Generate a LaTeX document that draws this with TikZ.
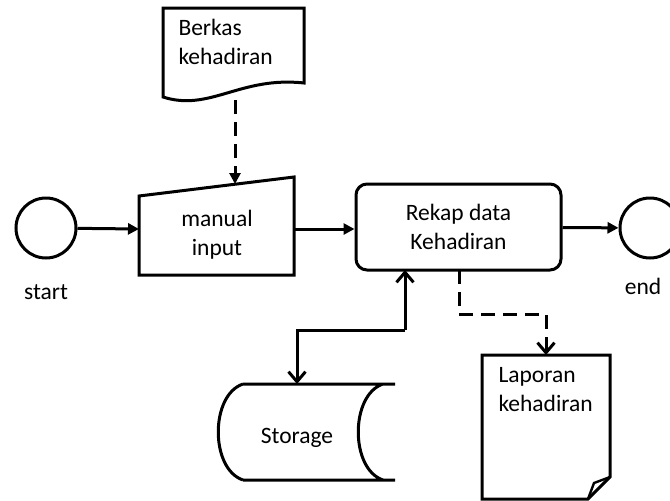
\documentclass[tikz,border=0pt]{standalone}
\usepackage{fontspec}
\setmainfont{Carlito}
\usetikzlibrary{arrows.meta}
\begin{document}
\begin{tikzpicture}[x=1pt,y=-1pt,
  line width=3pt,
  txt/.style={font=\fontsize{23.5}{29}\selectfont, align=center, inner sep=0pt},
  ltxt/.style={font=\fontsize{23.5}{29}\selectfont, align=left, inner sep=0pt, anchor=north west},
  flow/.style={-{Triangle[length=11pt,width=11pt]}},
  dflow/.style={dashed, dash pattern=on 14pt off 8pt, -{Triangle[length=11pt,width=11pt]}},
  vflow/.style={-{Straight Barb[length=10pt,width=17pt,line width=3pt]}},
  dvflow/.style={dashed, dash pattern=on 14pt off 8pt, -{Straight Barb[length=10pt,width=17pt,line width=3pt]}},
  event/.style={draw, circle, minimum size=60pt, inner sep=0pt}
]
\clip (0,0) rectangle (670,501);

% start / end events
\node[event] (start) at (46,228) {};
\node[txt] (startlbl) at (46,292) {start};
\node[event] (end) at (650,228) {};
\node[txt] (endlbl) at (643,286) {end};

% document: Berkas kehadiran
\draw (163,97) -- (163,8) -- (304,8) -- (304,83)
      .. controls (240,76) and (210,112) .. cycle;
\node[ltxt] (berkas) at (177,18) {Berkas\\kehadiran};
\coordinate (berkas-s) at (235,100);

% manual input
\draw (139,196) -- (294,177) -- (294,275) -- (139,275) -- cycle;
\node[txt] (manual) at (217,235) {manual\\input};
\coordinate (mi-w) at (139,229);
\coordinate (mi-e) at (294,229);
\coordinate (mi-n) at (235,184);

% process: Rekap data Kehadiran
\node[draw, rounded corners=11pt, minimum width=205pt, minimum height=86pt,
      txt] (rekap) at (458.5,227) {Rekap data\\Kehadiran};

% stored data
\draw (243,384) -- (395,384)
      (243,480) -- (395,480)
      (243,384) .. controls (210,395) and (210,469) .. (243,480)
      (383,384) .. controls (350,395) and (350,469) .. (383,480);
\node[txt] (storage) at (297,438) {Storage};
\coordinate (st-n) at (297,384);

% document with folded corner: Laporan kehadiran
\draw (610,477) -- (610,355) -- (482,355) -- (482,499) -- (588,499) -- cycle;
\draw[line width=2.4pt, line join=round] (610,477) -- (594,483) -- (588,499);
\node[ltxt] (laporan) at (497,366) {Laporan\\kehadiran};
\coordinate (lap-n) at (546,355);

% connectors
\draw[flow] (start) -- (mi-w);
\draw[dflow] (berkas-s) -- (mi-n);
\draw[flow] (mi-e) -- (mi-e -| rekap.west);
\draw[flow] (rekap) -- (end);
\draw[vflow] (405,330) -- (405,270);
\draw[vflow] (405,330) -- (297,330) -- (st-n);
\draw[dvflow] (459,270) -- (459,314) -- (546,314) -- (lap-n);
\end{tikzpicture}
\end{document}
